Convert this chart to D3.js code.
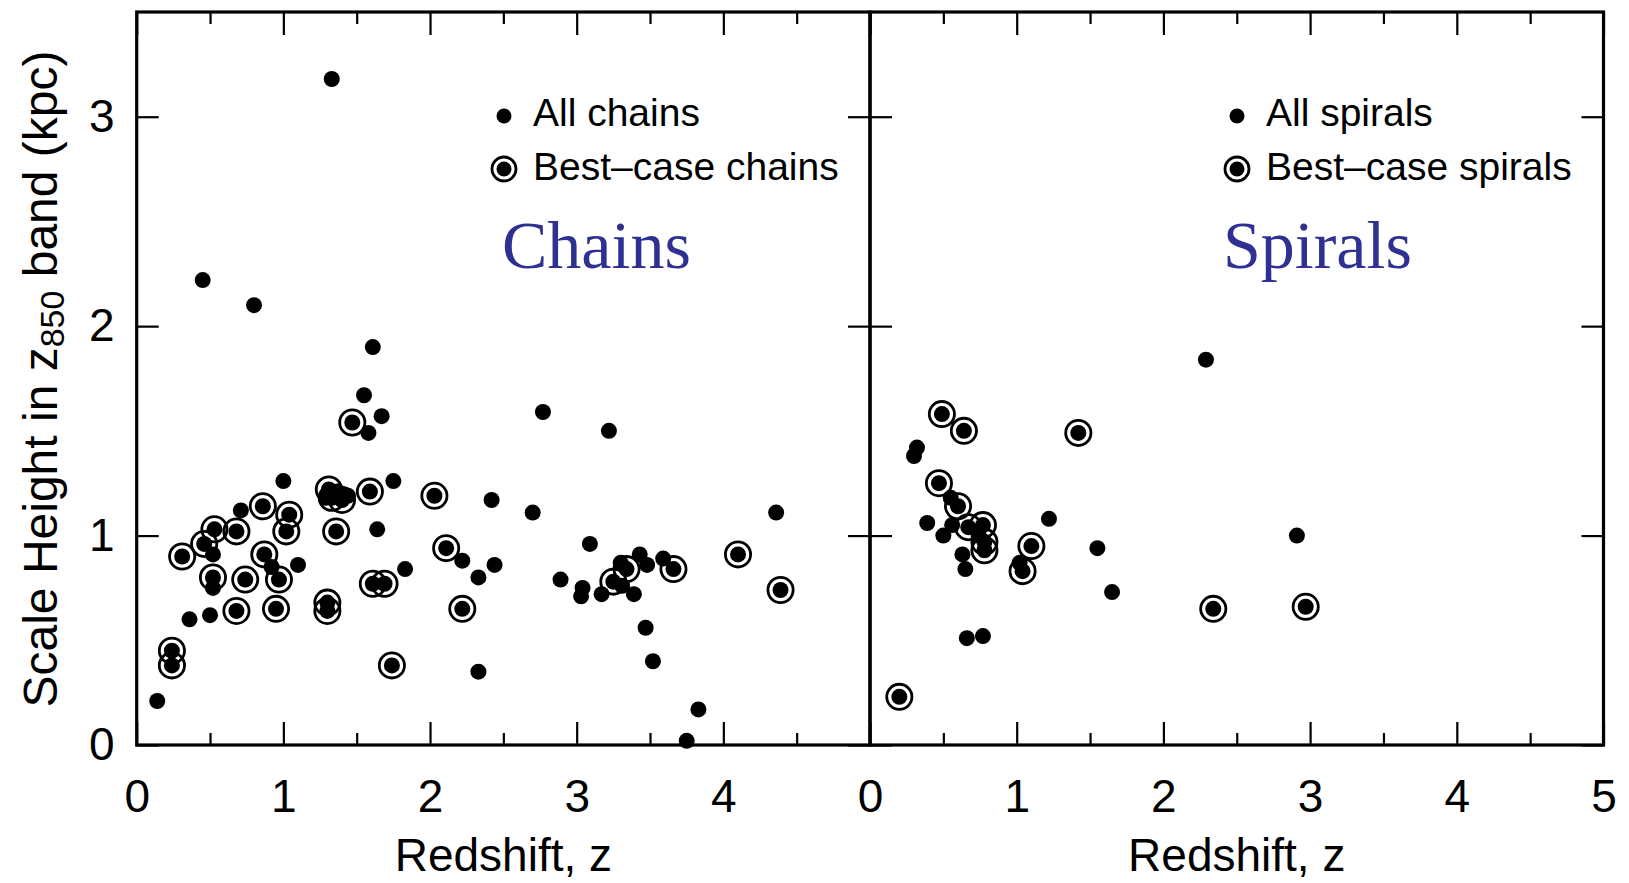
<!DOCTYPE html>
<html>
<head>
<meta charset="utf-8">
<script src="https://cdn.jsdelivr.net/npm/d3@7"></script>
<style>
  html, body { margin: 0; padding: 0; background: #fff; }
  svg { display: block; }
  text { font-family: "Liberation Sans", Arial, Helvetica, sans-serif; fill: #000; }
</style>
</head>
<body>
<svg id="chart" width="1629" height="883"></svg>
<script>
// ---------------- data ----------------
const xTicksMajor = [0, 1, 2, 3, 4, 5];
const xTicksMinor = [0.5, 1.5, 2.5, 3.5, 4.5];
const yTicks = [0, 1, 2, 3];
const leftXLabels = ["0", "1", "2", "3", "4"];
const rightXLabels = ["0", "1", "2", "3", "4", "5"];
const panelTitles = ["Chains", "Spirals"];
const legendChains = ["All chains", "Best\u2013case chains"];
const legendSpirals = ["All spirals", "Best\u2013case spirals"];

// chains: plain dots (all chains, not best-case)  [z, h]
const chainsAll = [
  [1.33, 3.18], [0.45, 2.22], [0.80, 2.10], [1.61, 1.90], [1.55, 1.67],
  [1.67, 1.57], [1.58, 1.49], [2.77, 1.59], [3.22, 1.50], [1.00, 1.26],
  [1.75, 1.26], [1.29, 1.18], [1.37, 1.21], [1.44, 1.19], [2.42, 1.17],
  [2.70, 1.11], [0.71, 1.12], [1.64, 1.03], [0.52, 0.91], [0.92, 0.85],
  [1.10, 0.86], [0.52, 0.75], [1.83, 0.84], [2.22, 0.88], [2.44, 0.86],
  [2.33, 0.80], [0.36, 0.60], [0.50, 0.62], [0.14, 0.21], [2.33, 0.35],
  [3.09, 0.96], [2.89, 0.79], [3.04, 0.75], [3.03, 0.71], [3.30, 0.87],
  [3.43, 0.91], [3.48, 0.86], [3.59, 0.89], [3.17, 0.72], [3.39, 0.72],
  [3.31, 0.76], [3.47, 0.56], [3.52, 0.40], [3.83, 0.17], [3.75, 0.02],
  [4.36, 1.11]
];
// chains: best-case (ringed)
const chainsBest = [
  [1.47, 1.54], [1.31, 1.22], [1.33, 1.18], [1.40, 1.17], [1.59, 1.21],
  [2.03, 1.19], [1.36, 1.02], [0.86, 1.14], [1.04, 1.10], [1.02, 1.02],
  [0.53, 1.03], [0.68, 1.02], [0.46, 0.96], [0.31, 0.90], [0.87, 0.91],
  [0.52, 0.80], [0.74, 0.79], [0.97, 0.79], [1.61, 0.77], [1.69, 0.77],
  [2.11, 0.94], [2.22, 0.65], [0.68, 0.64], [0.95, 0.65], [1.30, 0.68],
  [1.30, 0.64], [0.24, 0.45], [0.24, 0.38], [1.74, 0.38], [3.34, 0.84],
  [3.66, 0.84], [3.25, 0.78], [4.10, 0.91], [4.39, 0.74]
];
// spirals: plain dots
const spiralsAll = [
  [2.29, 1.84], [0.32, 1.42], [0.30, 1.38], [0.55, 1.18], [0.39, 1.06],
  [0.50, 1.00], [0.56, 1.05], [0.74, 1.00], [0.63, 0.91], [0.65, 0.84],
  [1.22, 1.08], [1.02, 0.87], [1.55, 0.94], [1.65, 0.73], [0.66, 0.51],
  [0.77, 0.52], [2.91, 1.00]
];
// spirals: best-case (ringed)
const spiralsBest = [
  [0.49, 1.58], [0.64, 1.50], [1.42, 1.49], [0.47, 1.25], [0.60, 1.14],
  [0.67, 1.04], [0.77, 1.05], [0.78, 0.97], [0.78, 0.93], [1.10, 0.95],
  [1.04, 0.83], [2.34, 0.65], [2.97, 0.66], [0.20, 0.23]
];

// ---------------- layout ----------------
const svg = d3.select("#chart");
const plotTop = 12, plotBottom = 745;
const xLeft = d3.scaleLinear().domain([0, 5]).range([136.7, 870]);
const xRight = d3.scaleLinear().domain([0, 5]).range([870, 1603.5]);
const y = d3.scaleLinear().domain([0, 3.5]).range([plotBottom, plotTop]);

const axisFont = 46;
const blue = "#2e3192";

function styleAxis(g) {
  g.select(".domain").remove();
  g.selectAll(".tick line").attr("stroke", "#000").attr("stroke-width", 2.2);
  g.selectAll(".tick text")
    .style("font-family", '"Liberation Sans", Arial, sans-serif')
    .style("font-size", axisFont + "px").attr("fill", "#000");
}

function drawPanel(x, labels, dotsAll, dotsBest, title, legendText, legX, titleX, showY) {
  const g = svg.append("g");
  // ticks: bottom
  g.append("g").attr("transform", `translate(0,${plotBottom})`)
    .call(d3.axisBottom(x).tickValues(xTicksMajor.slice(0, labels.length))
      .tickFormat((d, i) => labels[i]).tickSizeInner(-23).tickSizeOuter(0).tickPadding(34))
    .call(styleAxis);
  g.append("g").attr("transform", `translate(0,${plotBottom})`)
    .call(d3.axisBottom(x).tickValues(xTicksMinor).tickFormat("").tickSizeInner(-12).tickSizeOuter(0))
    .call(styleAxis);
  // ticks: top
  g.append("g").attr("transform", `translate(0,${plotTop})`)
    .call(d3.axisTop(x).tickValues(xTicksMajor).tickFormat("").tickSizeInner(-23).tickSizeOuter(0))
    .call(styleAxis);
  g.append("g").attr("transform", `translate(0,${plotTop})`)
    .call(d3.axisTop(x).tickValues(xTicksMinor).tickFormat("").tickSizeInner(-12).tickSizeOuter(0))
    .call(styleAxis);
  // ticks: left / right
  const x0 = x.range()[0], x1 = x.range()[1];
  g.append("g").attr("transform", `translate(${x0},0)`)
    .call(d3.axisLeft(y).tickValues(yTicks).tickFormat(showY ? d3.format("d") : "")
      .tickSizeInner(-22).tickSizeOuter(0).tickPadding(22))
    .call(styleAxis);
  g.append("g").attr("transform", `translate(${x1},0)`)
    .call(d3.axisRight(y).tickValues(yTicks).tickFormat("").tickSizeInner(-22).tickSizeOuter(0))
    .call(styleAxis);
  // frame
  g.append("rect").attr("x", x0).attr("y", plotTop).attr("width", x1 - x0).attr("height", plotBottom - plotTop)
    .attr("fill", "none").attr("stroke", "#000").attr("stroke-width", 3.2);

  // points
  const allPts = dotsAll.concat(dotsBest);
  g.append("g").selectAll("circle").data(allPts).join("circle")
    .attr("cx", d => x(d[0])).attr("cy", d => y(d[1])).attr("r", 8).attr("fill", "#000");
  g.append("g").selectAll("circle").data(dotsBest).join("circle")
    .attr("cx", d => x(d[0])).attr("cy", d => y(d[1])).attr("r", 12.6)
    .attr("fill", "none").attr("stroke", "#000").attr("stroke-width", 2.8);

  // legend
  g.append("circle").attr("cx", legX).attr("cy", 116).attr("r", 7.5).attr("fill", "#000");
  g.append("circle").attr("cx", legX).attr("cy", 169).attr("r", 7.5).attr("fill", "#000");
  g.append("circle").attr("cx", legX).attr("cy", 169).attr("r", 12)
    .attr("fill", "none").attr("stroke", "#000").attr("stroke-width", 2.8);
  g.append("text").attr("x", legX + 29).attr("y", 126).style("font-size", "39px").text(legendText[0]);
  g.append("text").attr("x", legX + 29).attr("y", 180).style("font-size", "39px").text(legendText[1]);

  // panel title
  g.append("text").attr("x", titleX).attr("y", 268)
    .style("font-family", '"Liberation Serif", "Times New Roman", serif')
    .style("font-size", "68px").style("fill", blue).text(title);

  // x label
  g.append("text").attr("x", (x0 + x1) / 2).attr("y", 871).attr("text-anchor", "middle")
    .style("font-size", axisFont + "px").text("Redshift, z");
}

drawPanel(xLeft, leftXLabels, chainsAll, chainsBest, panelTitles[0], legendChains, 504, 502, true);
drawPanel(xRight, rightXLabels, spiralsAll, spiralsBest, panelTitles[1], legendSpirals, 1237, 1223, false);

// y label
const yl = svg.append("text").attr("transform", "translate(57,379) rotate(-90)")
  .attr("text-anchor", "middle").style("font-size", "48px");
yl.append("tspan").text("Scale Height in z");
yl.append("tspan").attr("dy", 7).style("font-size", "34px").text("850");
yl.append("tspan").attr("dy", -7).text(" band (kpc)");
</script>
</body>
</html>
